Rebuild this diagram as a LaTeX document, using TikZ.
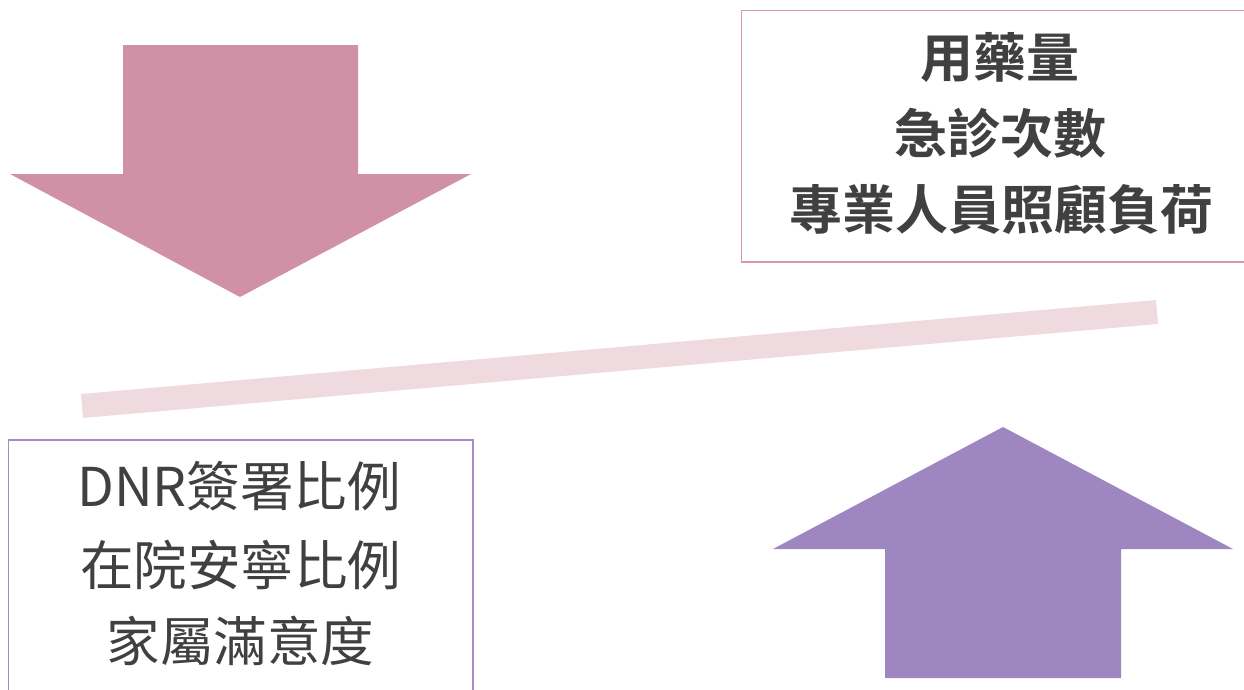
\documentclass[tikz,border=0pt]{standalone}
\usepackage{fontspec}
\newfontfamily\cjkreg{Noto Sans CJK TC}
\newfontfamily\cjkbold{Noto Sans CJK TC Bold}
\definecolor{pinkarrow}{HTML}{D091A6}
\definecolor{purplearrow}{HTML}{9E86C1}
\definecolor{barpink}{HTML}{EFDAE0}
\definecolor{pinkborder}{HTML}{D899AE}
\definecolor{purpleborder}{HTML}{A48DC6}
\definecolor{txt}{HTML}{404040}
\tikzset{
  toptext/.style={text=txt, font=\cjkbold\fontsize{53}{60}\selectfont, inner sep=0pt, anchor=center},
  bottext/.style={text=txt, font=\cjkreg\fontsize{53.5}{60}\selectfont, inner sep=0pt, anchor=center},
}
\begin{document}
\begin{tikzpicture}[x=1pt,y=-1pt]
\useasboundingbox (0,0) rectangle (1244,689);
\clip (0,0) rectangle (1244,689);
\fill[white] (0,0) rectangle (1244,689);
% down arrow
\fill[pinkarrow] (123,45) -- (358,45) -- (358,174) -- (471,174) -- (240,297) -- (10,174) -- (123,174) -- cycle;
% up arrow
\fill[purplearrow] (885,678) -- (1121,678) -- (1121,549) -- (1233,549) -- (1003,427) -- (773,549) -- (885,549) -- cycle;
% bar
\coordinate (barL) at (82,406);
\coordinate (barR) at (1157,312);
\draw[barpink, line width=24pt] (barL) -- (barR);
% boxes
\draw[pinkborder, line width=1.8pt] (741.5,10.5) rectangle (1260,262);
\draw[purpleborder, line width=1.8pt] (8.5,440) rectangle (473,700);
% texts
\node[toptext] (t1) at (1000,57) {用藥量};
\node[toptext] (t2) at (1000,133) {急診次數};
\node[toptext] (t3) at (1001,209) {專業人員照顧負荷};
\node[bottext] (b1) at (239,486) {DNR簽署比例};
\node[bottext] (b2) at (240.5,565) {在院安寧比例};
\node[bottext] (b3) at (240.5,641) {家屬滿意度};
\end{tikzpicture}
\end{document}
